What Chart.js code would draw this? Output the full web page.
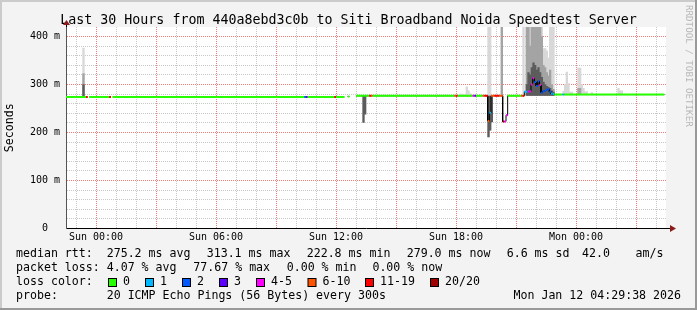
<!DOCTYPE html>
<html>
<head>
<meta charset="utf-8">
<title>Last 30 Hours - Siti Broadband Noida</title>
<script src="https://cdn.jsdelivr.net/npm/chart.js@4.4.1/dist/chart.umd.min.js"></script>
<style>
  html, body { margin: 0; padding: 0; background: #f3f3f3; }
  canvas { display: block; }
</style>
</head>
<body>
<canvas id="chart" width="697" height="310"></canvas>
<script>
const MONO = '"DejaVu Sans Mono", "Liberation Mono", monospace';

// time axis: minutes from Sun 00:00, rrd step is 5 min
const xMin = -90;
const xMax = 1710;
const xTickAt = [0, 360, 720, 1080, 1440];
const xTickLabels = ['Sun 00:00', 'Sun 06:00', 'Sun 12:00', 'Sun 18:00', 'Mon 00:00'];
const yTickAt = [0, 100, 200, 300, 400];
const yTickLabels = ['0  ', '100 m', '200 m', '300 m', '400 m'];

// median rtt (ms) per run of steps, each run lasts until the next start
const medStart = [-90, -30, -25, -20, 40, 45, 50, 625, 630, 635,
  715, 720, 745, 755, 760, 780, 820, 825, 830, 1075,
  1080, 1085, 1130, 1135, 1140, 1160, 1165, 1175, 1180, 1185,
  1195, 1210, 1220, 1225, 1230, 1235, 1275, 1280, 1285, 1290,
  1295, 1300, 1305, 1310, 1315, 1320, 1325, 1330, 1335, 1340,
  1345, 1350, 1355, 1360, 1365, 1370, 1375, 1400, 1405];
const medRtt = [274, 274, null, 274, 274, null, 274, 274, 274, 274,
  274, 274, null, 275, null, 276.5, 276.5, 276.5, 276.5, 276.5,
  276.5, 276.5, 276.5, 276.5, 276.5, 276.5, 276.5, 224, 241, 276.5,
  276.5, 276.5, 222.8, 223, 236, 276.5, 276.5, 276.5, 285, 285,
  285, 286, 300, 313, 305, 297, 307, 299, 283, 286,
  287, 289, 290, 285, 281, 280, 279, 279, 279];
// index into lossColors
const medLoss = [0, 6, 0, 0, 6, 0, 0, 2, 3, 0,
  6, 0, 0, 0, 0, 0, 6, 5, 0, 5,
  6, 0, 4, 3, 0, 5, 6, 5, 1, 5,
  6, 5, 7, 4, 4, 0, 5, 6, 1, 1,
  4, 4, 4, 4, 2, 2, 2, 4, 2, 2,
  2, 2, 2, 2, 1, 1, 0, 1, 0];
const medEnd = 1705;

// smoke: spread of the 20 pings in a step (ms)
const smokeStart = [-40, 800, 805, 1090, 1095, 1100, 1110, 1115, 1120, 1175,
  1180, 1185, 1215, 1280, 1290, 1295, 1300, 1305, 1310, 1315,
  1320, 1325, 1330, 1335, 1340, 1345, 1350, 1355, 1360, 1365,
  1370, 1400, 1405, 1410, 1415, 1420, 1425, 1445, 1450, 1455,
  1460, 1465, 1470, 1485, 1565, 1570, 1575];
const smokeLow = [274, 221, 238, 276, 276, 276, 276, 276, 276, 191,
  205, 222, 276, 276, 277, 277, 277, 277, 277, 277,
  277, 277, 277, 277, 277, 277, 277, 277, 277, 277,
  277, 279, 279, 279, 279, 279, 279, 279, 279, 279,
  279, 279, 279, 279, 279, 279, 279];
const smokeHigh = [376, null, null, 280, 280, 279, 295, 287, 281, 450,
  450, null, 450, 450, 450, 450, 450, 450, 450, 450,
  450, 450, 450, 450, 375, 375, 370, 355, 450, 450,
  450, 286, 300, 326, 302, 284, 284, 334, 334, 300,
  292, 285, 285, 283, 292, 287, 287];
const smokeMid = [323, null, null, null, null, null, null, null, null, null,
  null, null, 450, null, 450, 450, 380, 450, 450, 450,
  450, 420, 450, 400, 340, 335, 325, 318, 330, 300,
  290, null, null, null, null, null, null, 292, 292, null,
  null, null, null, null, null, null, null];
const smokeCore = [300, 276, 276, null, null, null, null, null, null, 276,
  276, 276, null, null, 300, 325, 320, 335, 345, 340,
  330, 335, 325, 315, 305, 300, 296, 294, 292, 287,
  284, null, null, null, null, null, null, null, null, null,
  null, null, null, null, null, null, null];

const lossColors = ['#26ff00', '#00b8ff', '#0059ff', '#5e00ff', '#ff00ff', '#ff5500', '#ff0000', '#a00000'];
const lossLabels = ['0', '1', '2', '3', '4-5', '6-10', '11-19', '20/20'];

const titleText = 'Last 30 Hours from 440a8ebd3c0b to Siti Broadband Noida Speedtest Server';
const rttStats = ['275.2 ms avg', '313.1 ms max', '222.8 ms min', '279.0 ms now', '6.6 ms sd', '42.0', 'am/s'];
const lossStats = ['4.07 % avg', '77.67 % max', '0.00 % min', '0.00 % now'];
const probeText = '20 ICMP Echo Pings (56 Bytes) every 300s';
const stampText = 'Mon Jan 12 04:29:38 2026';

// build line points: each run becomes a flat piece from its start to the next start
function medianPoints(breakOnJump) {
  const pts = [];
  for (let i = 0; i < medStart.length; i++) {
    const x0 = medStart[i];
    const x1 = i + 1 < medStart.length ? medStart[i + 1] : medEnd;
    const v = medRtt[i];
    if (v === null) {
      pts.push({ x: x0, y: null });
      continue;
    }
    if (breakOnJump && i > 0 && medRtt[i - 1] !== v) pts.push({ x: x0, y: null });
    pts.push({ x: x0, y: v, c: medLoss[i] }, { x: x1, y: v, c: medLoss[i] });
  }
  return pts;
}

function smokeBars(high) {
  const out = [];
  smokeStart.forEach((t, i) => {
    if (high[i] === null) return;
    out.push({ x: t + 2.5, y: [smokeLow[i], high[i]] });
  });
  return out;
}

// grid positions every `step` between lo and hi
function gridTicks(lo, hi, step) {
  const t = [];
  for (let v = Math.ceil(lo / step) * step; v <= hi; v += step) t.push({ value: v });
  return t;
}

const colored = medianPoints(true);
const STEP_PX = 5 / 3;
const MAJOR = '#f77a7a';
const MINOR = '#c8c8c8';

// page background, frame, arrows and the rrdtool style legend
const sheet = {
  id: 'sheet',
  beforeDraw(chart) {
    const { ctx, chartArea: a, width, height } = chart;
    ctx.save();
    ctx.fillStyle = '#f3f3f3';
    ctx.fillRect(0, 0, width, height);
    ctx.fillStyle = '#cbcbcb';
    ctx.fillRect(0, 0, width, 2);
    ctx.fillRect(0, 0, 2, height);
    ctx.fillStyle = '#999999';
    ctx.fillRect(0, height - 2, width, 2);
    ctx.fillRect(width - 2, 0, 2, height);
    ctx.fillStyle = '#ffffff';
    ctx.fillRect(a.left, a.top, a.right - a.left, a.bottom - a.top);
    ctx.restore();
  },
  afterDraw(chart) {
    const { ctx, chartArea: a } = chart;
    ctx.save();

    // axis arrows
    const ay = Math.round(a.bottom - 0.5) + 0.5;
    const ax = Math.round(a.left - 0.5) + 0.5;
    ctx.strokeStyle = '#000';
    ctx.lineWidth = 1;
    ctx.beginPath();
    ctx.moveTo(a.right, ay);
    ctx.lineTo(a.right + 5, ay);
    ctx.moveTo(ax, a.top);
    ctx.lineTo(ax, a.top - 3);
    ctx.stroke();
    ctx.fillStyle = '#8b1a1a';
    ctx.beginPath();
    ctx.moveTo(a.right + 4, ay - 3.5);
    ctx.lineTo(a.right + 10, ay);
    ctx.lineTo(a.right + 4, ay + 3.5);
    ctx.closePath();
    ctx.fill();
    ctx.beginPath();
    ctx.moveTo(ax - 3.5, a.top - 2);
    ctx.lineTo(ax, a.top - 7);
    ctx.lineTo(ax + 3.5, a.top - 2);
    ctx.closePath();
    ctx.fill();

    // watermark
    ctx.save();
    ctx.translate(688, 5);
    ctx.rotate(Math.PI / 2);
    ctx.font = '9.2px ' + MONO;
    ctx.fillStyle = '#b8b8b8';
    ctx.textBaseline = 'middle';
    ctx.fillText('RRDTOOL / TOBI OETIKER', 0, 0);
    ctx.restore();

    // legend
    const rowY = [254.3, 268.3, 282.3, 296.3];
    ctx.font = '11.6px ' + MONO;
    ctx.fillStyle = '#000';
    ctx.textBaseline = 'middle';
    ctx.textAlign = 'left';
    ctx.fillText('median rtt:', 16, rowY[0]);
    const rttX = [106.7, 206.7, 306.7, 406.7, 506.7, 582, 635.6];
    rttStats.forEach((s, i) => ctx.fillText(s, rttX[i], rowY[0]));

    ctx.fillText('packet loss:', 16, rowY[1]);
    const lossX = [106.7, 193.3, 286.7, 372.4];
    lossStats.forEach((s, i) => ctx.fillText(s, lossX[i], rowY[1]));

    ctx.fillText('loss color:', 16, rowY[2]);
    const boxX = [108, 145, 182, 219, 256, 307.5, 365, 430];
    lossColors.forEach((col, i) => {
      ctx.fillStyle = col;
      ctx.fillRect(boxX[i] + 0.5, 278.5, 8, 8);
      ctx.strokeStyle = '#000';
      ctx.strokeRect(boxX[i] + 0.5, 278.5, 8, 8);
      ctx.fillStyle = '#000';
      ctx.fillText(lossLabels[i], boxX[i] + 15, rowY[2]);
    });

    ctx.fillText('probe:', 16, rowY[3]);
    ctx.fillText(probeText, 106.7, rowY[3]);
    ctx.textAlign = 'right';
    ctx.fillText(stampText, 681, rowY[3]);
    ctx.restore();
  }
};

new Chart(document.getElementById('chart'), {
  type: 'bar',
  data: {
    datasets: [
      {
        type: 'line',
        data: colored,
        borderWidth: 2,
        borderColor: lossColors[0],
        segment: { borderColor: c => lossColors[colored[c.p0DataIndex].c] },
        pointRadius: 0,
        tension: 0,
        borderCapStyle: 'butt',
        xAxisID: 'x', yAxisID: 'y',
        order: 1
      },
      {
        type: 'line',
        data: medianPoints(false),
        borderWidth: 1,
        borderColor: '#000',
        pointRadius: 0,
        tension: 0,
        xAxisID: 'x', yAxisID: 'y',
        order: 2
      },
      {
        data: smokeBars(smokeCore),
        backgroundColor: '#5c5c5c',
        barThickness: STEP_PX, grouped: false, clip: 0,
        xAxisID: 'x', yAxisID: 'y',
        order: 3
      },
      {
        data: smokeBars(smokeMid),
        backgroundColor: '#a4a4a4',
        barThickness: STEP_PX, grouped: false, clip: 0,
        xAxisID: 'x', yAxisID: 'y',
        order: 4
      },
      {
        data: smokeBars(smokeHigh),
        backgroundColor: '#d8d8d8',
        barThickness: STEP_PX, grouped: false, clip: 0,
        xAxisID: 'x', yAxisID: 'y',
        order: 5
      }
    ]
  },
  options: {
    responsive: false,
    animation: false,
    events: [],
    layout: { padding: { left: 0, right: 0, top: 0, bottom: 61.5 } },
    plugins: {
      legend: { display: false },
      tooltip: { enabled: false },
      title: {
        display: true,
        text: titleText,
        color: '#000',
        font: { family: MONO, size: 13.3, weight: 'normal', lineHeight: 1 },
        padding: { top: 13.4, bottom: 0.3 }
      }
    },
    scales: {
      x: {
        type: 'linear',
        min: xMin,
        max: xMax,
        offset: false,
        afterBuildTicks: s => { s.ticks = gridTicks(xMin, xMax, 60); },
        ticks: {
          autoSkip: false,
          maxRotation: 0,
          padding: 3,
          color: '#000',
          font: { family: MONO, size: 10 },
          callback: v => {
            const i = xTickAt.indexOf(v);
            return i < 0 ? '' : xTickLabels[i];
          }
        },
        grid: {
          offset: false,
          drawTicks: false,
          lineWidth: 1,
          color: c => (c.tick.value % 180 === 0 ? MAJOR : MINOR)
        },
        border: { display: true, color: '#000', width: 1, dash: [1, 1] },
        afterFit: s => { s.height = 20; }
      },
      y: {
        type: 'linear',
        position: 'left',
        min: 0,
        max: 201.5 / 0.48,
        afterBuildTicks: s => { s.ticks = gridTicks(0, 400, 20); },
        ticks: {
          autoSkip: false,
          padding: 6,
          color: '#000',
          font: { family: MONO, size: 10 },
          callback: v => {
            const i = yTickAt.indexOf(v);
            return i < 0 ? '' : yTickLabels[i];
          }
        },
        grid: {
          drawTicks: false,
          lineWidth: 1,
          color: c => (c.tick.value % 100 === 0 ? MAJOR : MINOR)
        },
        border: { display: true, color: '#555', width: 1, dash: [1, 1] },
        title: {
          display: true,
          text: 'Seconds',
          color: '#000',
          font: { family: MONO, size: 11.6 },
          padding: { top: 3.5, bottom: 0 }
        },
        afterFit: s => { s.width = 66; }
      },
      // empty strip on the right, keeps the plot 600px wide and the title centred
      yr: {
        type: 'linear',
        position: 'right',
        display: true,
        ticks: { display: false },
        grid: { display: false },
        border: { display: false },
        afterFit: s => { s.width = 31; }
      }
    }
  },
  plugins: [sheet]
});
</script>
</body>
</html>
